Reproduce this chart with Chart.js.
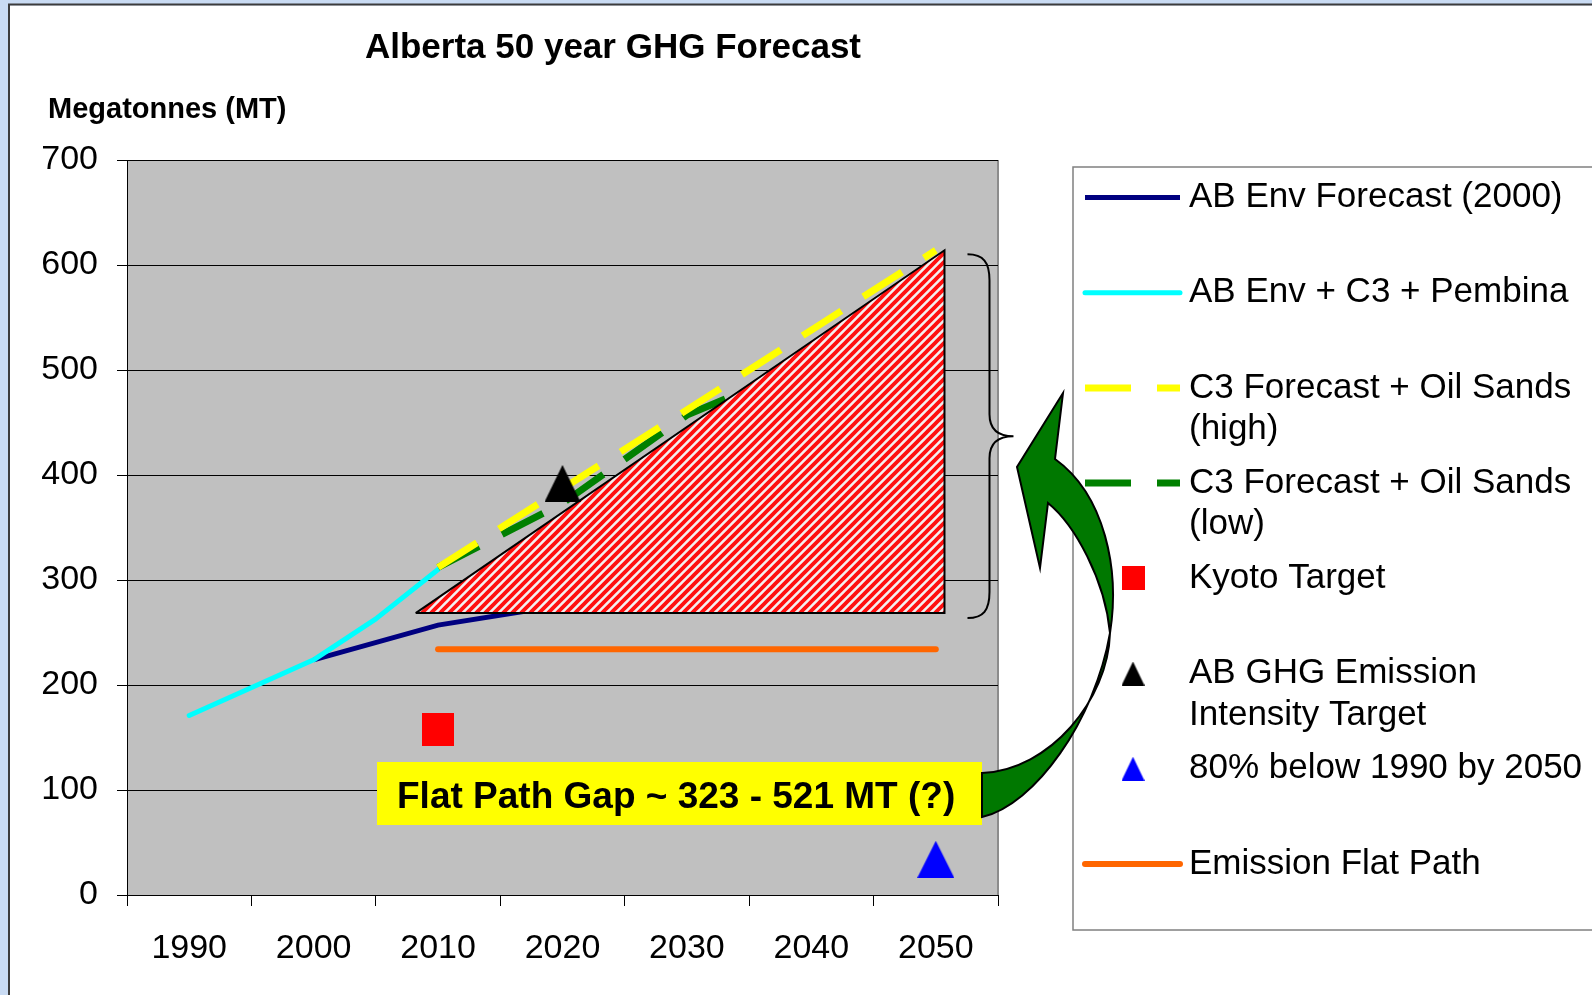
<!DOCTYPE html>
<html>
<head>
<meta charset="utf-8">
<title>Alberta 50 year GHG Forecast</title>
<script src="https://cdn.jsdelivr.net/npm/chart.js@4.4.1/dist/chart.umd.min.js"></script>
<style>
    html, body { margin: 0; padding: 0; background: #c9dbf3; }
    #wrap { position: relative; width: 1592px; height: 995px; }
</style>
</head>
<body>
<div id="wrap"><canvas id="ghgChart"></canvas></div>
<script>
// data (megatonnes)
const yearTicks = [1990, 2000, 2010, 2020, 2030, 2040, 2050];

const envYears = [2000, 2010, 2020];
const envValues = [224, 257, 276];

const pembinaYears = [1990, 2000, 2005, 2010];
const pembinaValues = [171, 224, 263, 310];

const oilSandsYears = [2010, 2020, 2030, 2040, 2050];
const oilSandsHigh = [312, 387, 462, 538, 614];
const oilSandsLow = [312, 373, 457, 507, 558];

const kyotoYears = [2010];
const kyotoValues = [158];

const intensityYears = [2020];
const intensityValues = [392];

const deepCutYears = [2050];
const deepCutValues = [34];

const flatPathYears = [2010, 2050];
const flatPathValues = [234, 234];

// hatched gap triangle, closed back to its first corner
const gapYears = [2008.2, 2050.7, 2050.7, 2008.2];
const gapValues = [268.5, 614, 268.5, 268.5];

const gapLabel = 'Flat Path Gap ~ 323 - 521 MT (?)';

const FONT = "'Liberation Sans', Arial, sans-serif";

function points(xs, ys) {
    return xs.map((x, i) => ({ x: x, y: ys[i] }));
}

/**
 * @function marker_canvas
 * @description small canvas used as a point style (square or triangle)
 **/
function marker_canvas(shape, color, w, h) {
    const c = document.createElement('canvas');
    c.width = w;
    c.height = h;
    const g = c.getContext('2d');
    g.fillStyle = color;
    if (shape === 'square') {
        g.fillRect(0, 0, w, h);
    } else {
        g.beginPath();
        g.moveTo(w / 2, 0);
        g.lineTo(w, h);
        g.lineTo(0, h);
        g.closePath();
        g.fill();
    }
    return c;
}

/**
 * @function stripe_pattern
 * @description red / white diagonal hatch for the gap triangle
 **/
function stripe_pattern() {
    const c = document.createElement('canvas');
    c.width = c.height = 9;
    const g = c.getContext('2d');
    g.fillStyle = '#f3f0f0';
    g.fillRect(0, 0, 9, 9);
    g.strokeStyle = '#ff1010';
    g.lineWidth = 3.8;
    g.beginPath();
    g.moveTo(-2, 11); g.lineTo(11, -2);
    g.moveTo(-5, 5); g.lineTo(5, -5);
    g.moveTo(4, 14); g.lineTo(14, 4);
    g.stroke();
    return g.createPattern(c, 'repeat');
}

const ctx = document.getElementById('ghgChart').getContext('2d');

// slide background, frame and grey plot area
const slideBackground = {
    id: 'slideBackground',
    beforeDraw(chart) {
        const { ctx, width, height, chartArea: a } = chart;
        ctx.save();
        ctx.fillStyle = '#c9dbf3';
        ctx.fillRect(0, 0, width, height);
        ctx.fillStyle = '#ffffff';
        ctx.fillRect(10, 5.5, width, height);
        ctx.strokeStyle = '#3c3c3c';
        ctx.lineWidth = 2;
        ctx.beginPath();
        ctx.moveTo(9, height + 2);
        ctx.lineTo(9, 4.5);
        ctx.lineTo(width + 2, 4.5);
        ctx.stroke();
        ctx.fillStyle = '#c0c0c0';
        ctx.fillRect(a.left, a.top, a.right - a.left, a.bottom - a.top);
        ctx.strokeStyle = '#8c8c8c';
        ctx.lineWidth = 2;
        ctx.beginPath();
        ctx.moveTo(a.right, a.top);
        ctx.lineTo(a.right, a.bottom);
        ctx.stroke();
        ctx.restore();
    }
};

// titles, legend on the right, gap box, arrow and brace
const annotations = {
    id: 'annotations',
    afterDraw(chart) {
        const { ctx, scales: { x, y } } = chart;
        ctx.save();

        ctx.fillStyle = '#000';
        ctx.textBaseline = 'middle';
        ctx.textAlign = 'center';
        ctx.font = 'bold 35px ' + FONT;
        ctx.fillText('Alberta 50 year GHG Forecast', 613, 48);
        ctx.textAlign = 'left';
        ctx.font = 'bold 29px ' + FONT;
        ctx.fillText('Megatonnes (MT)', 48, 110);

        // legend box and items
        ctx.fillStyle = '#ffffff';
        ctx.fillRect(1073, 167, 600, 763);
        ctx.strokeStyle = '#808080';
        ctx.lineWidth = 1.5;
        ctx.strokeRect(1073, 167, 600, 763);

        const items = chart.data.datasets.filter(ds => ds.label);
        items.forEach((ds, i) => {
            const ly = 197.5 + i * 95.2;
            if (ds.legendPoint) {
                const p = ds.legendPoint;
                ctx.drawImage(p, 1133 - p.width / 2, ly - p.height / 2);
            } else {
                ctx.save();
                ctx.strokeStyle = ds.borderColor;
                ctx.lineWidth = ds.borderWidth;
                ctx.lineCap = ds.borderCapStyle || 'butt';
                ctx.setLineDash(ds.borderDash || []);
                ctx.beginPath();
                ctx.moveTo(1085, ly);
                ctx.lineTo(1180, ly);
                ctx.stroke();
                ctx.restore();
            }
            ctx.fillStyle = '#000';
            ctx.font = '35px ' + FONT;
            ds.label.split('\n').forEach((line, k) => {
                ctx.fillText(line, 1189, ly + k * 41.5);
            });
        });

        // brace next to the gap triangle
        const top = y.getPixelForValue(gapValues[1]) + 4;
        const bot = y.getPixelForValue(gapValues[0]) + 5;
        const mid = (top + bot) / 2;
        const bx = x.getPixelForValue(gapYears[1]) + 23;
        ctx.strokeStyle = '#000';
        ctx.lineWidth = 2;
        ctx.beginPath();
        ctx.moveTo(bx, top);
        ctx.bezierCurveTo(bx + 16, top, bx + 22, top + 8, bx + 22, top + 26);
        ctx.lineTo(bx + 22, mid - 22);
        ctx.bezierCurveTo(bx + 22, mid - 6, bx + 32, mid, bx + 46, mid);
        ctx.bezierCurveTo(bx + 32, mid, bx + 22, mid + 6, bx + 22, mid + 22);
        ctx.lineTo(bx + 22, bot - 26);
        ctx.bezierCurveTo(bx + 22, bot - 8, bx + 16, bot, bx, bot);
        ctx.stroke();

        // yellow label box
        ctx.fillStyle = '#ffff00';
        ctx.fillRect(377, 762, 605, 63);
        ctx.fillStyle = '#000';
        ctx.font = 'bold 37px ' + FONT;
        ctx.fillText(gapLabel, 397, 798);

        // curved green arrow
        ctx.beginPath();
        ctx.moveTo(982, 817);
        ctx.bezierCurveTo(1035, 805, 1095, 720, 1110, 633);
        ctx.bezierCurveTo(1120, 570, 1105, 495, 1055, 459);
        ctx.lineTo(1063, 393);
        ctx.lineTo(1017, 467);
        ctx.lineTo(1040, 568);
        ctx.lineTo(1048, 503);
        ctx.bezierCurveTo(1075, 525, 1105, 580, 1110, 633);
        ctx.bezierCurveTo(1108, 700, 1050, 770, 982, 773);
        ctx.closePath();
        ctx.fillStyle = '#007800';
        ctx.fill();
        ctx.strokeStyle = '#000';
        ctx.lineWidth = 2;
        ctx.stroke();

        ctx.restore();
    }
};

const datasets = [
    {
        label: 'AB Env Forecast (2000)',
        data: points(envYears, envValues),
        borderColor: '#000080',
        borderWidth: 5,
        order: 8
    },
    {
        label: 'AB Env + C3 + Pembina',
        data: points(pembinaYears, pembinaValues),
        borderColor: '#00ffff',
        borderWidth: 5,
        borderCapStyle: 'round',
        borderJoinStyle: 'round',
        order: 7
    },
    {
        label: 'C3 Forecast + Oil Sands\n(high)',
        data: points(oilSandsYears, oilSandsHigh),
        borderColor: '#ffff00',
        borderWidth: 7,
        borderDash: [46, 26],
        order: 5
    },
    {
        label: 'C3 Forecast + Oil Sands\n(low)',
        data: points(oilSandsYears, oilSandsLow),
        borderColor: '#008000',
        borderWidth: 7,
        borderDash: [46, 26],
        order: 6
    },
    {
        label: 'Kyoto Target',
        data: points(kyotoYears, kyotoValues),
        showLine: false,
        pointRadius: 10,
        pointStyle: marker_canvas('square', '#ff0000', 32, 33),
        legendPoint: marker_canvas('square', '#ff0000', 23, 24),
        order: 1
    },
    {
        label: 'AB GHG Emission\nIntensity Target',
        data: points(intensityYears, intensityValues),
        showLine: false,
        pointRadius: 10,
        pointStyle: marker_canvas('triangle', '#000000', 36, 37),
        legendPoint: marker_canvas('triangle', '#000000', 23, 24),
        order: 1
    },
    {
        label: '80% below 1990 by 2050',
        data: points(deepCutYears, deepCutValues),
        showLine: false,
        pointRadius: 10,
        pointStyle: marker_canvas('triangle', '#0000ff', 37, 37),
        legendPoint: marker_canvas('triangle', '#0000ff', 23, 24),
        order: 1
    },
    {
        label: 'Emission Flat Path',
        data: points(flatPathYears, flatPathValues),
        borderColor: '#ff6600',
        borderWidth: 6,
        borderCapStyle: 'round',
        order: 3
    },
    {
        data: points(gapYears, gapValues),
        borderColor: '#000000',
        borderWidth: 2,
        backgroundColor: stripe_pattern(),
        fill: 'shape',
        order: 4
    }
];

const tickFont = { family: FONT, size: 34 };

const config = {
    type: 'line',
    data: { datasets: datasets },
    options: {
        responsive: true,
        maintainAspectRatio: false,
        animation: false,
        layout: { padding: { left: 0, top: 160, right: 594, bottom: 0 } },
        plugins: {
            legend: { display: false },
            title: { display: false },
            tooltip: { enabled: false }
        },
        elements: {
            point: { radius: 0 },
            line: { tension: 0 }
        },
        scales: {
            x: {
                type: 'linear',
                min: 1985,
                max: 2055,
                afterBuildTicks: s => { s.ticks = yearTicks.map(v => ({ value: v })); },
                afterFit: s => { s.height = 100; },
                grid: { drawOnChartArea: false, offset: true, color: '#000', tickLength: 11 },
                border: { color: '#000', width: 1 },
                ticks: {
                    color: '#000',
                    font: tickFont,
                    padding: 22,
                    maxRotation: 0,
                    autoSkip: false,
                    callback: v => String(v)
                }
            },
            y: {
                min: 0,
                max: 700,
                afterFit: s => { s.width = 127; },
                grid: { color: '#000', tickLength: 10 },
                border: { color: '#000', width: 1 },
                ticks: { stepSize: 100, color: '#000', font: tickFont, padding: 19 }
            }
        }
    },
    plugins: [slideBackground, annotations]
};

const ghgChart = new Chart(ctx, config);
</script>
</body>
</html>
